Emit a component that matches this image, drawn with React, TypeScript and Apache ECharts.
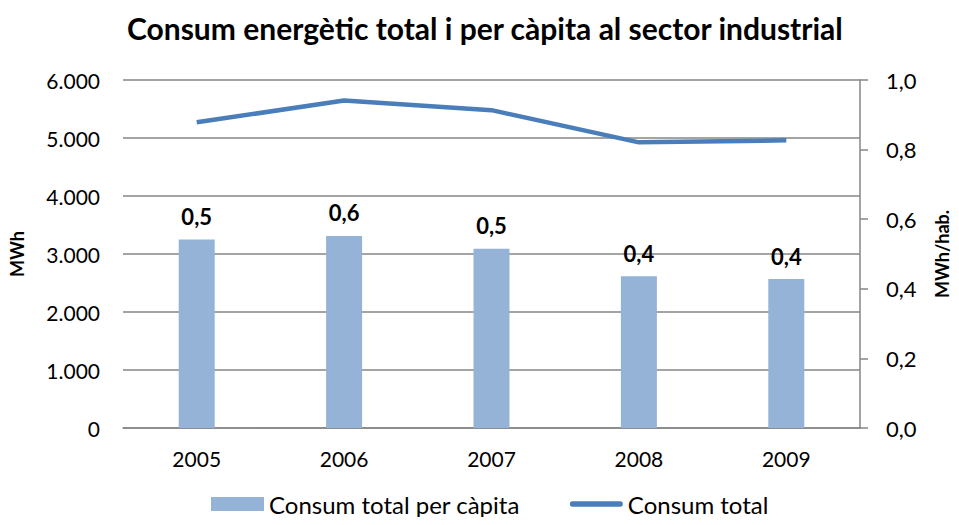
import React, { useEffect, useRef } from "react";
import * as echarts from "echarts";

const years = ["2005", "2006", "2007", "2008", "2009"];
const perCapita = [0.542, 0.552, 0.515, 0.436, 0.428];
const totalMWh = [5270, 5645, 5480, 4925, 4960];
const leftTicks = { min: 0, max: 6000, interval: 1000 };
const rightTicks = { min: 0, max: 1, interval: 0.2 };

const FONT = "Lato";
const GRAY = "#868686";

export default function App() {
  const ref = useRef<HTMLDivElement>(null);
  useEffect(() => {
    if (!ref.current) return;
    const chart = echarts.init(ref.current, undefined, { renderer: "svg" });
    chart.setOption({
      animation: false,
      textStyle: { fontFamily: FONT, color: "#000" },
      title: {
        text: "Consum energètic total i per càpita al sector industrial",
        left: 122,
        top: 8,
        textStyle: { fontFamily: FONT, fontSize: 30, fontWeight: "bold", color: "#000" },
      },
      legend: {
        bottom: 4,
        left: 206,
        itemWidth: 53,
        itemHeight: 14,
        itemGap: 50,
        textStyle: { fontFamily: FONT, fontSize: 24, color: "#000" },
        data: [
          { name: "Consum total per càpita", icon: "rect" },
          {
            name: "Consum total",
            icon: "path://M2.5,0 H47.5 A2.5,2.5 0 0 1 47.5,5 H2.5 A2.5,2.5 0 0 1 2.5,0 Z",
            itemStyle: { color: "#4A7EBB", borderWidth: 0 },
          },
        ],
      },
      grid: { left: 120, right: 92, top: 80, bottom: 97 },
      xAxis: {
        type: "category",
        data: years,
        axisLine: { show: true, lineStyle: { color: GRAY, width: 1.5 } },
        axisTick: { show: false },
        axisLabel: { fontFamily: FONT, fontSize: 21, color: "#000", margin: 20 },
      },
      yAxis: [
        {
          type: "value",
          position: "left",
          ...leftTicks,
          name: "MWh",
          nameLocation: "middle",
          nameRotate: 90,
          nameGap: 97,
          nameTextStyle: { fontFamily: FONT, fontSize: 18, fontWeight: "bold", color: "#000" },
          axisLine: { show: false },
          axisTick: { show: false },
          splitLine: { show: true, lineStyle: { color: GRAY, width: 1.5 } },
          axisLabel: {
            fontFamily: FONT,
            fontSize: 21,
            color: "#000",
            margin: 23,
            formatter: (v: number) => v.toString().replace(/\B(?=(\d{3})+(?!\d))/g, "."),
          },
        },
        {
          type: "value",
          position: "right",
          ...rightTicks,
          name: "MWh/hab.",
          nameLocation: "middle",
          nameRotate: 90,
          nameGap: 73,
          nameTextStyle: { fontFamily: FONT, fontSize: 18, fontWeight: "bold", color: "#000" },
          axisLine: { show: true, lineStyle: { color: GRAY, width: 1.5 } },
          axisTick: { show: true, inside: false, length: 8, lineStyle: { color: GRAY, width: 1.5 } },
          splitLine: { show: false },
          axisLabel: {
            fontFamily: FONT,
            fontSize: 22,
            color: "#000",
            margin: 26,
            formatter: (v: number) => v.toFixed(1).replace(".", ","),
          },
        },
      ],
      series: [
        {
          name: "Consum total per càpita",
          type: "bar",
          yAxisIndex: 1,
          data: perCapita,
          barWidth: 36,
          itemStyle: { color: "#95B3D7" },
          label: {
            show: true,
            position: "top",
            distance: 12,
            fontFamily: FONT,
            fontSize: 22,
            fontWeight: "bold",
            color: "#000",
            formatter: (p: any) => Number(p.value).toFixed(1).replace(".", ","),
          },
        },
        {
          name: "Consum total",
          type: "line",
          yAxisIndex: 0,
          data: totalMWh,
          symbol: "none",
          lineStyle: { color: "#4A7EBB", width: 4.5 },
          itemStyle: { color: "#4A7EBB" },
        },
      ],
    });
    return () => chart.dispose();
  }, []);
  return <div ref={ref} style={{ width: 959, height: 525, margin: -8 }} />;
}
